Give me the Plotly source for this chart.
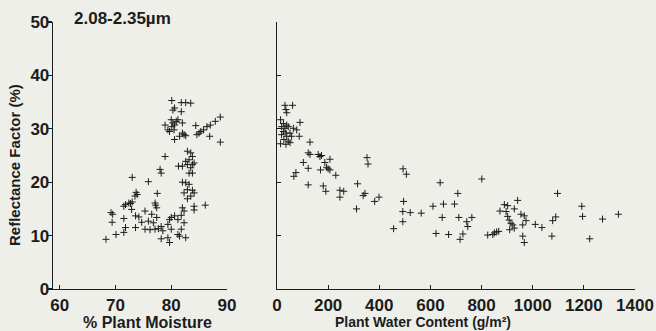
import plotly.graph_objects as go

# Left panel: % plant moisture vs reflectance factor (%)
moisture = [80.1, 80.6, 81.8, 82.6, 83.5, 80.3, 81.8, 78.9,
            80.0, 80.3, 80.6, 80.9, 80.1, 79.4, 79.7, 80.5, 81.2, 82.0,
            82.0, 82.3, 82.6, 81.5, 80.6,
            84.4, 84.6, 85.0, 85.3, 85.8, 86.4, 87.0, 87.9, 88.8, 90.5, 86.9, 88.8, 90.5,
            78.9,
            82.9, 83.5, 83.8, 83.2, 82.6, 82.9, 83.8, 84.1, 83.5, 83.2, 83.8, 81.3, 82.0,
            78.0, 78.2, 73.0, 75.9,
            82.0, 82.6, 83.2, 82.9, 83.8, 82.3, 82.9, 83.5, 84.1,
            73.7, 73.9, 73.5, 77.5,
            72.7, 73.0, 72.4, 71.8, 71.5, 72.9, 77.1, 77.2, 77.4,
            69.2, 69.5, 82.0, 82.3, 84.1, 84.1, 86.1,
            75.3, 76.5, 77.4, 73.6, 74.2, 69.4, 71.5, 74.7, 75.9, 76.8,
            80.0, 80.6, 81.2, 79.7, 81.8,
            73.6, 75.3, 76.2, 77.1, 77.7, 78.5, 80.0, 79.4, 78.2,
            82.3, 81.8, 81.5, 68.3, 70.1, 71.5, 71.8,
            78.2, 79.4, 79.7, 81.2, 82.6]
refl_moist = [35.3, 33.9, 34.9, 34.9, 34.8, 33.5, 33.2, 30.7,
              31.7, 31.1, 30.7, 31.4, 30.4, 29.8, 29.5, 29.8, 31.7, 31.1,
              29.2, 28.9, 28.7, 28.6, 28.0,
              30.6, 28.9, 29.2, 29.5, 29.8, 30.4, 30.7, 31.4, 32.2, 32.3, 28.6, 27.5, 28.6,
              24.8,
              25.8, 25.5, 24.8, 24.2, 23.9, 23.3, 23.3, 23.6, 22.7, 21.7, 21.7, 23.0, 23.0,
              22.4, 21.7, 20.9, 20.1,
              20.0, 19.9, 19.6, 18.6, 18.5, 18.0, 16.9, 17.4, 18.0,
              18.1, 17.7, 17.4, 17.9,
              16.0, 16.3, 16.1, 15.8, 15.5, 14.9, 16.1, 15.7, 15.2,
              14.3, 14.0, 15.2, 14.6, 15.5, 14.8, 15.7,
              14.6, 14.0, 13.4, 13.7, 13.5, 12.5, 13.2, 12.5, 12.7, 12.4,
              13.4, 13.7, 13.0, 13.0, 13.8,
              11.5, 11.2, 11.1, 11.2, 11.3, 10.9, 11.2, 12.1, 11.7,
              12.4, 11.2, 9.9, 9.3, 10.2, 10.6, 11.5,
              9.4, 9.6, 8.7, 10.2, 9.6]

# Right panel: plant water content (g/m2) vs reflectance factor (%)
water = [31, 61, 35, 38, 14, 25, 38, 18, 31, 44, 64, 77, 25, 35, 51, 18, 38, 57,
         27, 44, 14, 35, 51, 90, 87,
         129, 122, 129, 161, 168, 174, 103, 122, 170, 194, 200, 207, 207, 187, 230,
         74, 66, 122, 181, 191, 246, 261, 246, 315, 352, 356, 493, 506,
         337, 344, 382, 399, 311, 495, 492, 521, 564, 492, 456,
         638, 707, 610, 651, 694, 646, 711, 742, 746, 762, 622, 671, 727, 716,
         801, 824, 844, 850, 859, 867, 872, 889, 902, 896, 902, 908, 915, 922, 910, 928,
         941, 928, 954, 967, 961, 974, 961, 967,
         1010, 1036, 1075, 1078, 1090, 1097, 1192, 1195, 1223, 1273, 1335]
refl_water = [34.4, 34.4, 33.6, 33.0, 31.7, 31.0, 30.7, 30.4, 30.1, 30.4, 30.1, 29.8,
              29.5, 29.2, 29.2, 28.9, 28.6, 28.6, 28.0, 27.7, 27.2, 27.1, 27.4, 31.2, 28.6,
              27.5, 25.5, 25.2, 25.2, 24.8, 25.0, 23.7, 22.6, 22.3, 22.8, 22.5, 24.3, 22.3, 23.7, 21.3,
              21.8, 21.1, 19.5, 19.3, 18.3, 18.5, 18.3, 17.2, 19.7, 24.6, 23.4, 22.5, 21.5,
              17.5, 17.9, 16.4, 17.2, 15.0, 16.4, 14.5, 14.3, 14.2, 12.6, 11.3,
              19.9, 17.9, 15.5, 15.9, 15.9, 13.4, 13.4, 12.6, 11.7, 13.4, 10.4, 10.2, 10.3, 9.3,
              20.6, 10.1, 10.2, 10.5, 10.7, 10.8, 14.6, 15.8, 15.6, 14.5, 13.6, 12.9, 12.3, 12.0, 11.1, 11.4,
              16.6, 15.0, 14.0, 13.7, 12.0, 12.8, 9.9, 8.7,
              12.1, 11.5, 9.9, 12.8, 13.5, 17.9, 15.5, 13.6, 9.4, 13.1, 14.0]

y_ticks = [0, 10, 20, 30, 40, 50]
x1_ticks = [60, 70, 80, 90]
x2_ticks = [0, 200, 400, 600, 800, 1000, 1200, 1400]

W, H = 656, 331
INK = "#1c1c1c"
FONT = "Liberation Sans, Arial, sans-serif"

def px(x):
    return x / W

def py(y):
    return 1 - y / H

marker = dict(symbol="cross-thin", size=5, color=INK, line=dict(color=INK, width=1))

fig = go.Figure()
fig.add_trace(go.Scatter(x=moisture, y=refl_moist, mode="markers", marker=marker,
                         xaxis="x", yaxis="y", showlegend=False, cliponaxis=False))
fig.add_trace(go.Scatter(x=water, y=refl_water, mode="markers", marker=marker,
                         xaxis="x2", yaxis="y2", showlegend=False, cliponaxis=False))

tickfont = dict(family=FONT, size=17, color=INK, weight="bold")
axis_common = dict(showgrid=False, zeroline=False, showline=True, linecolor=INK,
                   linewidth=1.3, ticklen=4, tickcolor=INK, tickwidth=1.1,
                   automargin=False, tickfont=tickfont)

fig.update_layout(
    width=W, height=H,
    margin=dict(l=0, r=0, t=0, b=0, autoexpand=False),
    paper_bgcolor="#eeefe9", plot_bgcolor="rgba(0,0,0,0)",
    xaxis=dict(domain=[px(53), px(227)], range=[58.8, 90], tickvals=x1_ticks,
               anchor="y", ticks="inside", ticklabelstandoff=0, **axis_common),
    yaxis=dict(domain=[py(289), py(22)], range=[0, 50], tickvals=y_ticks,
               anchor="x", ticks="outside", ticklabelstandoff=-5, **axis_common),
    xaxis2=dict(domain=[px(277), px(635)], range=[0, 1400], tickvals=x2_ticks,
                anchor="y2", ticks="inside", ticklabelstandoff=0, **axis_common),
    yaxis2=dict(domain=[py(289), py(22)], range=[0, 50], tickvals=y_ticks,
                showticklabels=False, anchor="x2", ticks="inside", **axis_common),
    annotations=[
        dict(text="2.08-2.35µm", x=px(72), y=py(19), xref="paper", yref="paper",
             xanchor="left", yanchor="middle", showarrow=False,
             font=dict(family=FONT, size=17, color=INK, weight="bold")),
        dict(text="% Plant Moisture", x=px(147), y=py(322), xref="paper", yref="paper",
             xanchor="center", yanchor="middle", showarrow=False,
             font=dict(family=FONT, size=16, color=INK, weight="bold")),
        dict(text="Plant Water Content (g/m²)", x=px(423), y=py(322), xref="paper", yref="paper",
             xanchor="center", yanchor="middle", showarrow=False,
             font=dict(family=FONT, size=14, color=INK, weight="bold")),
        dict(text="Reflectance Factor (%)", x=px(14), y=py(165), xref="paper", yref="paper",
             xanchor="center", yanchor="middle", textangle=-90, showarrow=False,
             font=dict(family=FONT, size=15, color=INK, weight="bold")),
    ],
)

fig.write_html("out.html", config={"displayModeBar": False, "staticPlot": True},
               post_script="document.body.style.margin='0';document.body.style.padding='0';"
                           "document.body.style.overflow='hidden';")
